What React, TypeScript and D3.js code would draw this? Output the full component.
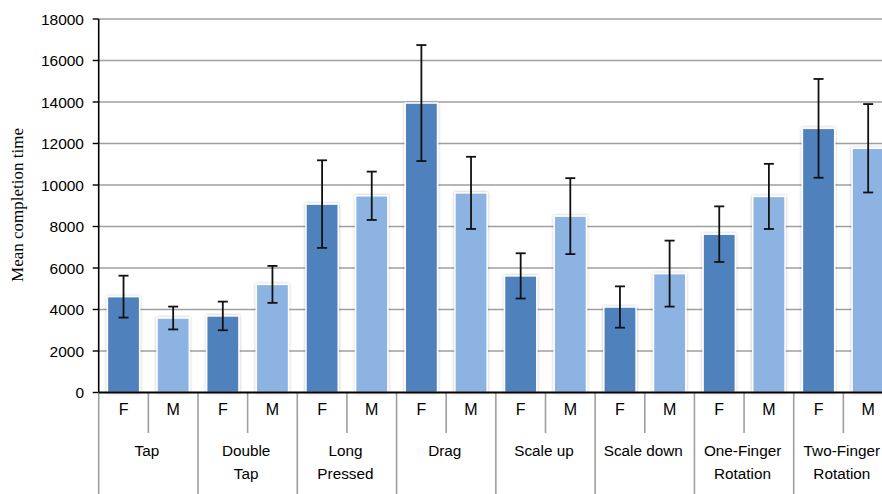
import React, { useEffect } from 'react';
import * as d3 from 'd3';

// Mean completion time per gesture, by gender
const categories = [
    ['Tap'],
    ['Double', 'Tap'],
    ['Long', 'Pressed'],
    ['Drag'],
    ['Scale up'],
    ['Scale down'],
    ['One-Finger', 'Rotation'],
    ['Two-Finger', 'Rotation']
];
const genders = ['F', 'M'];
const meanF = [4620, 3690, 9080, 13950, 5620, 4120, 7630, 12730];
const errF = [1010, 690, 2110, 2795, 1090, 995, 1340, 2380];
const meanM = [3590, 5210, 9480, 9620, 8500, 5730, 9450, 11770];
const errM = [550, 890, 1165, 1740, 1830, 1590, 1570, 2130];
const yTicks = [0, 2000, 4000, 6000, 8000, 10000, 12000, 14000, 16000, 18000];

const colors = { F: '#4F81BD', M: '#8DB3E2' };

const W = 882;
const H = 494;
const left = 98.7;
const axisY = 392.5;

const App = () => {
    useEffect(() => {
        document.body.style.margin = '0';
    }, []);

    const keys = categories.map(c => c.join(' '));
    const x0 = d3.scaleBand().domain(keys).range([left, 893]).padding(0);
    const x1 = d3.scaleBand().domain(genders)
        .range([0, x0.bandwidth()])
        .paddingInner(0.35)
        .paddingOuter(0.175);
    const y = d3.scaleLinear().domain([0, 18000]).range([axisY, 19]);

    const rows = keys.flatMap((k, i) => [
        { key: k, g: 'F', mean: meanF[i], err: errF[i] },
        { key: k, g: 'M', mean: meanM[i], err: errM[i] }
    ]);

    const grid = '#9f9f9f';
    const sans = '"Liberation Sans", Arial, sans-serif';

    return (
        <svg width={W} height={H} style={{ display: 'block', overflow: 'hidden' }}>
            <defs>
                <filter id="shadow" x="-20%" y="-20%" width="140%" height="140%">
                    <feDropShadow dx="0" dy="0" stdDeviation="1.4" floodColor="#000" floodOpacity="0.28" />
                </filter>
            </defs>
            <rect width={W} height={H} fill="#fff" />

            {/* gridlines */}
            {yTicks.filter(t => t > 0).map(t => (
                <line key={t} x1={left} x2={W} y1={y(t)} y2={y(t)} stroke={grid} strokeWidth={1.7} />
            ))}

            {/* bars */}
            {rows.map(r => {
                const bx = x0(r.key)! + x1(r.g)!;
                return (
                    <rect key={r.key + r.g}
                        x={bx} y={y(r.mean)}
                        width={x1.bandwidth()} height={axisY - y(r.mean)}
                        fill={colors[r.g]} stroke="#fff" strokeWidth={1.5}
                        filter="url(#shadow)" />
                );
            })}

            {/* error bars */}
            {rows.map(r => {
                const cx = x0(r.key)! + x1(r.g)! + x1.bandwidth() / 2;
                const top = y(r.mean + r.err);
                const bot = y(r.mean - r.err);
                return (
                    <g key={'e' + r.key + r.g} stroke="#111" strokeWidth={1.8}>
                        <line x1={cx} x2={cx} y1={top} y2={bot} />
                        <line x1={cx - 5} x2={cx + 5} y1={top} y2={top} />
                        <line x1={cx - 5} x2={cx + 5} y1={bot} y2={bot} />
                    </g>
                );
            })}

            {/* y axis */}
            <line x1={left} x2={left} y1={y(18000)} y2={axisY} stroke="#000" strokeWidth={1.6} />
            {yTicks.map(t => (
                <g key={'t' + t}>
                    <line x1={left - 6} x2={left} y1={y(t)} y2={y(t)} stroke="#000" strokeWidth={1.4} />
                    <text x={84} y={y(t)} dy="0.36em" textAnchor="end"
                        fontFamily={sans} fontSize={15.5} fill="#000">{t}</text>
                </g>
            ))}
            <text transform={`translate(23,${205}) rotate(-90)`} textAnchor="middle"
                fontFamily='"Liberation Serif", "Times New Roman", serif' fontSize={17} fill="#000">
                Mean completion time
            </text>

            {/* category table below the axis */}
            {keys.map((k, i) => {
                const gx = x0(k)!;
                const bw = x0.bandwidth();
                return (
                    <g key={'c' + k}>
                        <line x1={gx} x2={gx} y1={axisY} y2={H} stroke={grid} strokeWidth={1.6} />
                        <line x1={gx + bw / 2} x2={gx + bw / 2} y1={axisY} y2={433} stroke={grid} strokeWidth={1.6} />
                        {genders.map(g => (
                            <text key={g} x={gx + x1(g)! + x1.bandwidth() / 2} y={415}
                                textAnchor="middle" fontFamily={sans} fontSize={16} fill="#000">{g}</text>
                        ))}
                        {categories[i].map((line, j) => (
                            <text key={j} x={gx + bw / 2 - 1.5} y={456 + j * 23}
                                textAnchor="middle" fontFamily={sans} fontSize={15.3} fill="#000">{line}</text>
                        ))}
                    </g>
                );
            })}
            <line x1={left} x2={W} y1={axisY} y2={axisY} stroke="#000" strokeWidth={1.8} />
        </svg>
    );
};

export default App;
